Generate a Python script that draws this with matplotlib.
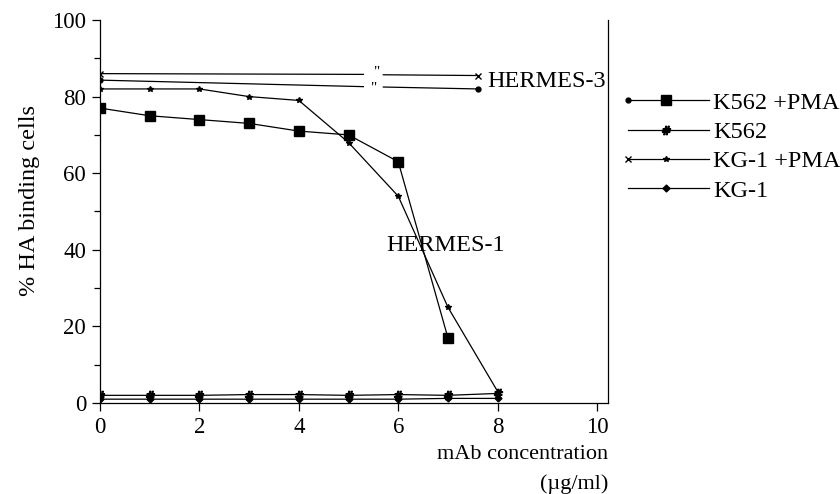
import matplotlib
matplotlib.use("Agg")
import matplotlib.pyplot as plt
from matplotlib.lines import Line2D
from matplotlib.legend_handler import HandlerBase

plt.rcParams['font.family'] = ['Liberation Serif', 'DejaVu Serif']

# ---------------- data ----------------
conc = [0, 1, 2, 3, 4, 5, 6, 7, 8]

# HERMES-1
k562_pma_h1 = [77, 75, 74, 73, 71, 70, 63, 17]          # squares, x 0..7
kg1_pma_h1 = [82, 82, 82, 80, 79, 68, 54, 25, 3]        # stars, x 0..8
k562_h1 = [2, 2, 2, 2.2, 2.2, 2, 2.2, 2, 2.5]           # '#'
kg1_h1 = [1, 1, 1, 1, 1, 1, 1, 1.2, 1.2]                # diamonds

# HERMES-3 (drawn with a break in the line)
h3_x_left = [0, 5.3]
h3_x_right = [5.7, 7.6]
kg1_pma_h3_left = [86, 85.8]
kg1_pma_h3_right = [85.7, 85.5]
k562_pma_h3_left = [84.3, 82.6]
k562_pma_h3_right = [82.5, 82.0]

legend_labels = ['K562 +PMA', 'K562', 'KG-1 +PMA', 'KG-1']
x_ticks = [0, 2, 4, 6, 8, 10]
y_ticks = [0, 20, 40, 60, 80, 100]

# ---------------- figure ----------------
fig = plt.figure(figsize=(8.4, 4.94), dpi=100)
ax = fig.add_axes([100/840, 1-403/494, (608-100)/840, (403-20)/494])

LW = 0.9
FS = 16
FS_BIG = 17.5

ax.plot(conc[:len(k562_pma_h1)], k562_pma_h1, color='k', lw=LW,
        marker='s', ms=6.5, mfc='k', mec='k')
ax.plot(conc, kg1_pma_h1, color='k', lw=LW, marker='*', ms=4)
ax.plot(conc, k562_h1, color='k', lw=LW, marker=r'$\#$', ms=6)
ax.plot(conc, kg1_h1, color='k', lw=LW, marker='D', ms=3.5)

# HERMES-3 lines
ax.plot(h3_x_left, kg1_pma_h3_left, color='k', lw=LW, marker='x', ms=5, markevery=[0])
ax.plot(h3_x_right, kg1_pma_h3_right, color='k', lw=LW, marker='x', ms=5, markevery=[1])
ax.plot(h3_x_left, k562_pma_h3_left, color='k', lw=LW, marker='o', ms=3.5, markevery=[0])
ax.plot(h3_x_right, k562_pma_h3_right, color='k', lw=LW, marker='o', ms=3.5, markevery=[1])
ax.text(5.55, kg1_pma_h3_left[1] + 0.5, '"', fontsize=11, ha='center', va='center')
ax.text(5.5, k562_pma_h3_left[1] - 0.3, '"', fontsize=11, ha='center', va='center')

ax.text(7.8, 84, 'HERMES-3', fontsize=FS_BIG, ha='left', va='center')
ax.text(5.75, 41, 'HERMES-1', fontsize=FS_BIG, ha='left', va='center')

ax.set_xlim(0, 10.22)
ax.set_ylim(0, 100)
ax.set_xticks(x_ticks)
ax.set_yticks(y_ticks)
ax.set_yticks([10, 30, 50, 70, 90], minor=True)
ax.tick_params(axis='both', which='major', direction='out', length=6, width=0.9,
               labelsize=FS + 0.5, pad=4)
ax.tick_params(axis='y', which='minor', direction='out', length=4, width=0.9)
ax.spines['top'].set_visible(False)
for s in ['left', 'bottom', 'right']:
    ax.spines[s].set_linewidth(0.9)

fig.text(30/840, 1-200/494, '% HA binding cells', rotation=90, fontsize=FS_BIG,
         ha='center', va='center')
ax.text(1.0, -0.11, 'mAb concentration', transform=ax.transAxes, fontsize=FS,
        ha='right', va='top')
ax.text(1.0, -0.185, '(\u00b5g/ml)', transform=ax.transAxes, fontsize=FS,
        ha='right', va='top')


# ---------------- legend ----------------
class MarkerLineHandler(HandlerBase):
    def __init__(self, left=None, left_ms=0, mid=None, mid_ms=0):
        super().__init__()
        self.left, self.left_ms, self.mid, self.mid_ms = left, left_ms, mid, mid_ms

    def create_artists(self, legend, orig_handle, xdescent, ydescent, width,
                       height, fontsize, trans):
        y = height / 2 - ydescent
        x0, x1 = -xdescent, width - xdescent
        arts = [Line2D([x0, x1], [y, y], color='k', lw=LW)]
        if self.left:
            arts.append(Line2D([x0], [y], color='k', marker=self.left,
                               ms=self.left_ms, mfc='k', mec='k', lw=0))
        if self.mid:
            arts.append(Line2D([x0 + 0.47 * (x1 - x0)], [y], color='k',
                               marker=self.mid, ms=self.mid_ms, mfc='k',
                               mec='k', lw=0))
        for a in arts:
            a.set_transform(trans)
        return arts


hs = [Line2D([], []) for _ in legend_labels]
hmap = {
    hs[0]: MarkerLineHandler('o', 3.5, 's', 6.5),
    hs[1]: MarkerLineHandler(None, 0, r'$\#$', 6),
    hs[2]: MarkerLineHandler('x', 5, '*', 4),
    hs[3]: MarkerLineHandler(None, 0, 'D', 3.5),
}
fig.legend(hs, legend_labels, handler_map=hmap, loc='upper left',
           bbox_to_anchor=(618/840, 1-82/494), frameon=False, fontsize=FS_BIG,
           handlelength=3.35, handletextpad=0.15, labelspacing=0.3,
           borderaxespad=0)

fig.savefig('out.png', dpi=100)
